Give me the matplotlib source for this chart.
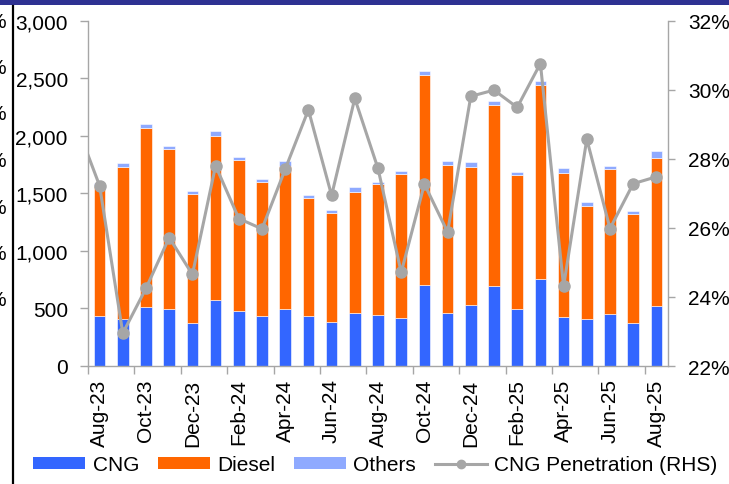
import matplotlib
matplotlib.use("Agg")
import matplotlib.pyplot as plt
from matplotlib.ticker import FuncFormatter, FixedLocator
from matplotlib.lines import Line2D
from matplotlib.patches import Patch, Rectangle
import numpy as np

plt.rcParams['font.family'] = ['Liberation Sans', 'DejaVu Sans']

months = ["Aug-23", "Sep-23", "Oct-23", "Nov-23", "Dec-23", "Jan-24", "Feb-24",
          "Mar-24", "Apr-24", "May-24", "Jun-24", "Jul-24", "Aug-24", "Sep-24",
          "Oct-24", "Nov-24", "Dec-24", "Jan-25", "Feb-25", "Mar-25", "Apr-25",
          "May-25", "Jun-25", "Jul-25", "Aug-25"]
cng = [431, 405, 510, 492, 371, 570, 478, 437, 492, 437, 379, 460, 440, 420,
       701, 460, 533, 698, 492, 759, 423, 408, 449, 371, 518]
diesel = [1136, 1327, 1561, 1396, 1123, 1431, 1315, 1164, 1246, 1020, 953, 1055,
          1138, 1251, 1830, 1289, 1199, 1572, 1167, 1679, 1257, 985, 1260, 950, 1289]
others = [23, 32, 31, 26, 24, 38, 23, 27, 43, 26, 26, 37, 23, 26, 29, 32, 43,
          32, 26, 41, 40, 35, 29, 29, 64]
# CNG share in %, preceded by the Jul-23 reading (the line enters from the left edge)
penetration_prev = 29.0
penetration = [27.22, 22.95, 24.25, 25.72, 24.65, 27.80, 26.27, 25.97, 27.70,
               29.42, 26.94, 29.75, 27.72, 24.71, 27.27, 25.88, 29.81, 29.99,
               29.49, 30.76, 24.31, 28.57, 25.98, 27.28, 27.48]

C_CNG = "#3366FF"
C_DIESEL = "#FF6600"
C_OTHERS = "#8FAAFF"
C_LINE = "#A6A6A6"
C_AXIS = "#A6A6A6"

fig = plt.figure(figsize=(7.29, 4.85), dpi=100)
ax = fig.add_axes([88 / 729, 1 - 367 / 485, (668 - 88) / 729, (367 - 21.7) / 485])

x = np.arange(len(months))
w = 0.5
ec = dict(edgecolor="white", linewidth=0.4)
ax.bar(x, cng, w, color=C_CNG, **ec)
ax.bar(x, diesel, w, bottom=cng, color=C_DIESEL, **ec)
ax.bar(x, others, w, bottom=np.array(cng) + np.array(diesel), color=C_OTHERS, **ec)

ax.set_xlim(-0.5, len(months) - 0.5)
ax.set_ylim(0, 3000)
ax.set_yticks(np.arange(0, 3001, 500))
ax.yaxis.set_major_formatter(FuncFormatter(lambda v, p: f"{int(v):,}"))

# boundaries carry the tick marks, labels sit on every second month
ax.xaxis.set_major_locator(FixedLocator(np.arange(-0.5, len(months) - 1, 2)))
ax.xaxis.set_minor_locator(FixedLocator(x[::2]))
ax.set_xticklabels([])
ax.set_xticklabels([months[i] for i in x[::2]], minor=True, rotation=90)
ax.tick_params(axis="x", which="major", length=6, color=C_AXIS, width=1)
ax.tick_params(axis="x", which="minor", length=0, pad=9, labelsize=15)
ax.tick_params(axis="y", length=6, color=C_AXIS, width=1, labelsize=15, pad=8.5)

for s in ["top", "right"]:
    ax.spines[s].set_visible(False)
for s in ["left", "bottom"]:
    ax.spines[s].set_color(C_AXIS)
    ax.spines[s].set_linewidth(1)

ax2 = ax.twinx()
ax2.plot(np.concatenate([[-1], x]), [penetration_prev] + penetration,
         color=C_LINE, linewidth=2.2, marker="o", markersize=8,
         markerfacecolor=C_LINE, markeredgecolor=C_LINE)
ax2.set_ylim(22, 32)
ax2.set_yticks(np.arange(22, 33, 2))
ax2.yaxis.set_major_formatter(FuncFormatter(lambda v, p: f"{int(v)}%"))
ax2.tick_params(axis="y", length=5, color=C_AXIS, width=1, labelsize=15, pad=9.5)
for s in ["top", "left", "bottom"]:
    ax2.spines[s].set_visible(False)
ax2.spines["right"].set_color(C_AXIS)
ax2.spines["right"].set_linewidth(1)

handles = [Patch(facecolor=C_CNG), Patch(facecolor=C_DIESEL), Patch(facecolor=C_OTHERS),
           Line2D([0], [0], color=C_LINE, linewidth=2.2, marker="o", markersize=6)]
labels = ["CNG", "Diesel", "Others", "CNG Penetration (RHS)"]
fig.legend(handles, labels, loc="center", bbox_to_anchor=(0.515, 1 - 466 / 485),
           ncol=4, frameon=False, fontsize=15, handlelength=2.5, handleheight=0.5,
           handletextpad=0.35, columnspacing=0.9, borderaxespad=0)

# page furniture around the panel
fig.add_artist(Rectangle((0, 1 - 6 / 485), 1, 6 / 485, transform=fig.transFigure,
                         facecolor="#2E3192", edgecolor="none"))
fig.add_artist(Line2D([12.5 / 729, 12.5 / 729], [0, 1 - 7 / 485], transform=fig.transFigure,
                      color="black", linewidth=1.6))
for yp in [22, 69, 115, 162, 208, 255, 300]:
    fig.text(6 / 729, 1 - yp / 485, "%", ha="right", va="center", fontsize=15)

fig.savefig("out.png", dpi=100, facecolor="white")
